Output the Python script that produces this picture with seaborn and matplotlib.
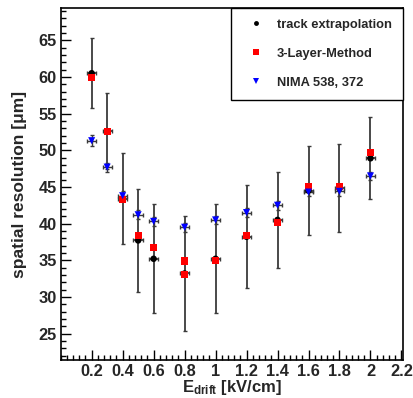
import numpy as np
import pandas as pd
import matplotlib
matplotlib.use("Agg")
import matplotlib.pyplot as plt
import seaborn as sns
from matplotlib.ticker import MultipleLocator
from matplotlib.lines import Line2D

sns.set_theme(style="white")
plt.rcParams['font.family'] = ['Liberation Sans', 'DejaVu Sans']
plt.rcParams['font.weight'] = 'bold'
plt.rcParams['mathtext.fontset'] = 'custom'
plt.rcParams['mathtext.rm'] = 'Liberation Sans:bold'
plt.rcParams['mathtext.bf'] = 'Liberation Sans:bold'
plt.rcParams['mathtext.it'] = 'Liberation Sans:bold'

# ---- data ----
track_x = [0.2, 0.3, 0.4, 0.5, 0.6, 0.8, 1.0, 1.2, 1.4, 1.6, 1.8, 2.0]
track_y = [60.5, 52.6, 43.4, 37.7, 35.2, 33.2, 35.2, 38.2, 40.5, 44.5, 44.8, 48.9]
track_yerr = [4.8, 5.2, 6.2, 7.0, 7.45, 7.85, 7.45, 7.0, 6.6, 6.05, 6.0, 5.6]
track_xerr = [0.03] * 12

layer_x = [0.2, 0.3, 0.4, 0.5, 0.6, 0.8, 0.8, 1.0, 1.2, 1.4, 1.6, 1.8, 2.0]
layer_y = [59.9, 52.6, 43.3, 38.4, 36.7, 34.9, 33.0, 35.0, 38.4, 40.2, 45.0, 45.0, 49.7]

nima_x = [0.2, 0.3, 0.4, 0.5, 0.6, 0.8, 1.0, 1.2, 1.4, 1.6, 1.8, 2.0]
nima_y = [51.3, 47.7, 43.8, 41.2, 40.3, 39.5, 40.5, 41.5, 42.5, 44.3, 44.4, 46.5]
nima_yerr = [0.75, 0.6, 0.6, 0.6, 0.6, 0.6, 0.6, 0.6, 0.6, 0.6, 0.6, 0.6]
nima_xerr = [0.03] * 12

labels = ["track extrapolation", "3-Layer-Method", "NIMA 538, 372"]
x_ticks = [0.2, 0.4, 0.6, 0.8, 1.0, 1.2, 1.4, 1.6, 1.8, 2.0, 2.2]
x_tick_labels = ["0.2", "0.4", "0.6", "0.8", "1", "1.2", "1.4", "1.6", "1.8", "2", "2.2"]
y_ticks = [25, 30, 35, 40, 45, 50, 55, 60, 65]

df_track = pd.DataFrame({"E": track_x, "res": track_y})
df_layer = pd.DataFrame({"E": layer_x, "res": layer_y})
df_nima = pd.DataFrame({"E": nima_x, "res": nima_y})

fig = plt.figure(figsize=(4.14, 3.98), dpi=100)
ax = fig.add_axes([0.1466, 0.0955, 0.8268, 0.8845])

# error bars
ax.errorbar(track_x, track_y, yerr=track_yerr, xerr=track_xerr, fmt='none',
            ecolor='#3a3a3a', elinewidth=1.3, capsize=1.4, capthick=1.0, zorder=2)
ax.errorbar(nima_x, nima_y, yerr=nima_yerr, xerr=nima_xerr, fmt='none',
            ecolor='#3a3a3a', elinewidth=1.0, capsize=1.4, capthick=1.0, zorder=2)

sns.scatterplot(data=df_track, x="E", y="res", marker='o', color='black', s=22,
                edgecolor='none', ax=ax, zorder=3, legend=False)
sns.scatterplot(data=df_layer, x="E", y="res", marker='s', color='#ff0000', s=26,
                edgecolor='none', ax=ax, zorder=4, legend=False)
sns.scatterplot(data=df_nima, x="E", y="res", marker='v', color='#0000ff', s=26,
                edgecolor='none', ax=ax, zorder=5, legend=False)

ax.set_xlim(0.0, 2.21)
ax.set_ylim(21.4, 69.4)
ax.set_xticks(x_ticks)
ax.set_xticklabels(x_tick_labels)
ax.set_yticks(y_ticks)
ax.xaxis.set_minor_locator(MultipleLocator(0.04))
ax.yaxis.set_minor_locator(MultipleLocator(1))
ax.tick_params(which='major', direction='in', length=7.5, width=1.0, color='black',
               labelsize=11.8, pad=3, left=True, bottom=True, top=False, right=False)
ax.tick_params(which='minor', direction='in', length=3.8, width=1.0, color='black',
               left=True, bottom=True, top=False, right=False)
for lab in ax.get_xticklabels() + ax.get_yticklabels():
    lab.set_fontweight('bold')

for sp in ax.spines.values():
    sp.set_color('black')
    sp.set_linewidth(1.2)
    sp.set_visible(True)

ax.set_xlabel(r"$\mathbf{E}_{\mathbf{drift}}$ [kV/cm]", fontsize=12, fontweight='bold', labelpad=-1)
ax.set_ylabel("spatial resolution [μm]", fontsize=12.5, fontweight='bold', labelpad=8)

handles = [
    Line2D([], [], linestyle='none', marker='o', color='black', markersize=3.5, markeredgewidth=0),
    Line2D([], [], linestyle='none', marker='s', color='#ff0000', markersize=4.2, markeredgewidth=0),
    Line2D([], [], linestyle='none', marker='v', color='#0000ff', markersize=4.2, markeredgewidth=0),
]
leg = ax.legend(handles, labels, loc='upper right', bbox_to_anchor=(1.0, 1.0),
                borderaxespad=0, fancybox=False, frameon=True, edgecolor='black',
                prop={'family': 'Liberation Sans', 'weight': 'bold', 'size': 9.3},
                borderpad=0.85, labelspacing=1.3, handlelength=2.1, handletextpad=0.6)
leg.get_frame().set_linewidth(1.0)
leg.get_frame().set_alpha(1.0)

fig.savefig("out.png", dpi=100)
